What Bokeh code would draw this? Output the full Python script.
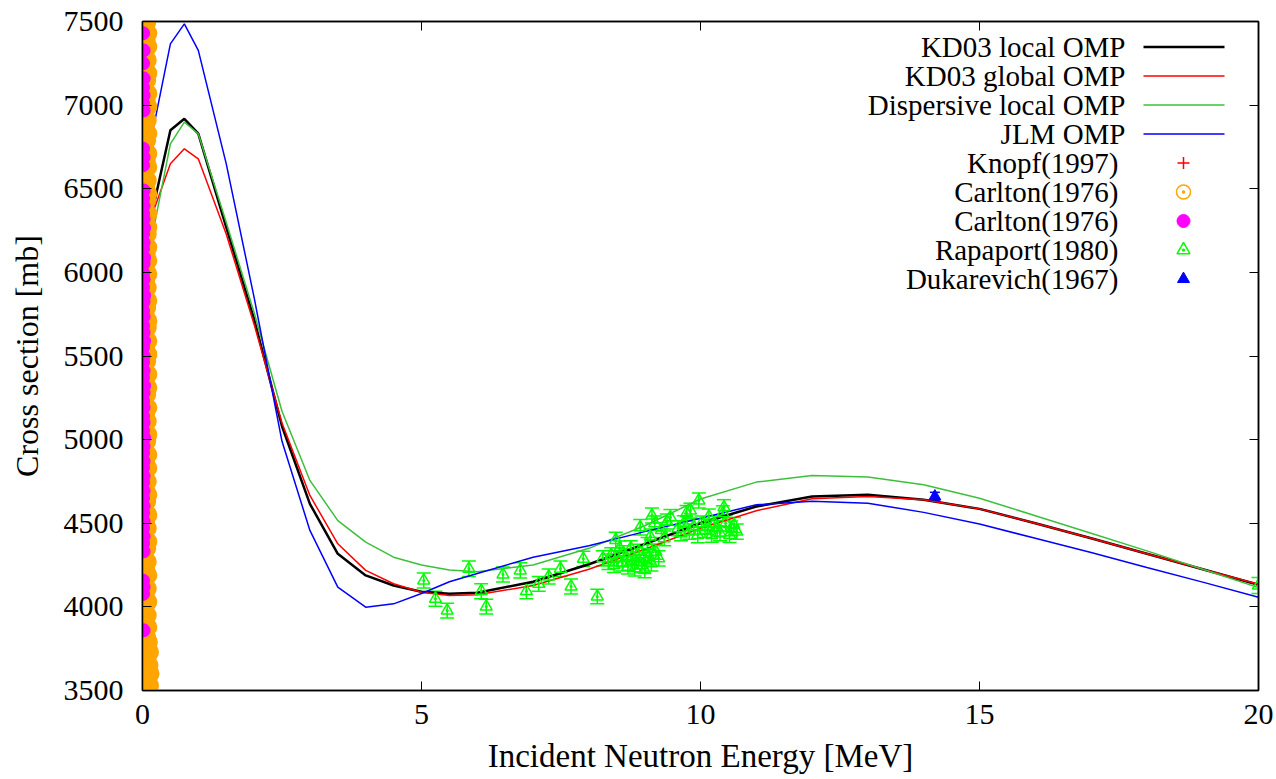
from bokeh.plotting import figure
from bokeh.models import (LinearAxis, FixedTicker, Whisker, TeeHead,
                          ColumnDataSource, CustomJSTickFormatter)
from bokeh.core.properties import value
from bokeh.embed import file_html
from bokeh.resources import INLINE

# ---------------- data ----------------
x_ticks = [0, 5, 10, 15, 20]
x_tick_labels = ["0", "5", "10", "15", "20"]
y_ticks = [3500, 4000, 4500, 5000, 5500, 6000, 6500, 7000, 7500]
y_tick_labels = ["3500", "4000", "4500", "5000", "5500", "6000", "6500", "7000", "7500"]
x_title = "Incident Neutron Energy [MeV]"
y_title = "Cross section [mb]"

energy = [0.2, 0.5, 0.75, 1.0, 1.5, 2.0, 2.5, 3.0, 3.5, 4.0, 4.5, 5.0, 5.5, 6.0,
          7.0, 8.0, 9.0, 10.0, 11.0, 12.0, 13.0, 14.0, 15.0, 16.0, 17.0, 18.0, 19.0, 20.0]
kd03_local = [6400, 6850, 6918, 6829, 6270, 5720, 5080, 4616, 4317, 4188, 4128, 4090, 4078, 4085,
              4150, 4255, 4375, 4500, 4600, 4660, 4670, 4640, 4586, 4500, 4410, 4318, 4225, 4132]
kd03_global = [6370, 6649, 6739, 6679, 6230, 5690, 5100, 4666, 4377, 4218, 4138, 4088, 4068, 4072,
               4128, 4225, 4345, 4470, 4575, 4646, 4660, 4640, 4586, 4500, 4410, 4318, 4225, 4135]
disp_local = [6260, 6768, 6898, 6829, 6300, 5760, 5170, 4756, 4516, 4387, 4297, 4250, 4220, 4210,
              4250, 4350, 4485, 4645, 4746, 4786, 4776, 4730, 4650, 4545, 4440, 4335, 4225, 4115]
jlm = [6870, 7366, 7486, 7327, 6650, 5850, 4990, 4457, 4118, 3998, 4018, 4080, 4150, 4200,
       4297, 4365, 4450, 4530, 4610, 4632, 4620, 4565, 4495, 4410, 4325, 4235, 4148, 4058]

knopf_e = []
knopf_s = []

carlton_o_e = [0.09, 0.13, 0.04, 0.11, 0.14, 0.07, 0.12, 0.03, 0.09, 0.13, 0.05, 0.11, 0.08, 0.03,
               0.10, 0.06, 0.09, 0.03, 0.10, 0.05, 0.09, 0.04, 0.10, 0.06, 0.09, 0.03, 0.08, 0.10,
               0.04, 0.09, 0.06, 0.10, 0.03, 0.08, 0.10, 0.05, 0.09, 0.03, 0.10, 0.06, 0.10, 0.04,
               0.08, 0.10, 0.03, 0.09, 0.06, 0.10, 0.03, 0.08, 0.10, 0.05, 0.10, 0.03, 0.08, 0.10,
               0.06, 0.10, 0.03, 0.09, 0.10, 0.05, 0.08, 0.10, 0.03, 0.09, 0.06, 0.10, 0.04, 0.10,
               0.07, 0.10, 0.03, 0.09, 0.10, 0.05, 0.10, 0.03, 0.08, 0.10, 0.06, 0.09, 0.03, 0.10,
               0.07, 0.10, 0.04, 0.08, 0.10, 0.05, 0.09, 0.03, 0.10, 0.07, 0.10, 0.04, 0.08, 0.10,
               0.05, 0.09, 0.03, 0.10, 0.07, 0.10, 0.04, 0.08]
carlton_o_s = [3510, 3530, 3555, 3580, 3600, 3625, 3650, 3680, 3700, 3730, 3760, 3790, 3820, 3850,
               3880, 3910, 3950, 3990, 4030, 4070, 4110, 4150, 4190, 4230, 4270, 4310, 4350, 4390,
               4430, 4470, 4510, 4550, 4590, 4630, 4670, 4710, 4750, 4790, 4830, 4870, 4910, 4950,
               4990, 5030, 5070, 5110, 5150, 5190, 5230, 5270, 5310, 5350, 5390, 5430, 5470, 5510,
               5550, 5590, 5630, 5670, 5710, 5750, 5790, 5830, 5870, 5910, 5950, 5990, 6030, 6070,
               6110, 6150, 6190, 6230, 6270, 6310, 6350, 6390, 6430, 6470, 6510, 6550, 6590, 6630,
               6670, 6710, 6750, 6790, 6830, 6870, 6910, 6950, 6990, 7030, 7070, 7110, 7150, 7190,
               7230, 7270, 7310, 7350, 7390, 7430, 7470, 7495]

carlton_f_e = [0.01, 0.02, 0.01, 0.02, 0.01, 0.02, 0.01, 0.02, 0.01, 0.02, 0.01, 0.02, 0.01, 0.02,
               0.01, 0.02, 0.03, 0.01, 0.02, 0.01, 0.03, 0.02, 0.01, 0.02, 0.01, 0.03, 0.02, 0.01,
               0.02, 0.01, 0.02, 0.03, 0.01, 0.02, 0.01, 0.02, 0.01, 0.03, 0.02, 0.01, 0.02, 0.01,
               0.02, 0.01, 0.03, 0.02, 0.01, 0.02, 0.01, 0.02, 0.01, 0.02, 0.01, 0.02, 0.01, 0.02,
               0.01, 0.02, 0.01, 0.02, 0.01, 0.02, 0.01, 0.02]
carlton_f_s = [7430, 7327, 7250, 7160, 7105, 7058, 7010, 6968, 6740, 6688, 6640, 6490, 6442, 6398,
               6352, 6318, 6266, 6230, 6178, 6141, 6088, 6052, 5996, 5958, 5911, 5862, 5824, 5770,
               5735, 5682, 5641, 5590, 5552, 5500, 5463, 5412, 5371, 5322, 5280, 5231, 5193, 5140,
               5102, 5054, 5011, 4960, 4922, 4871, 4833, 4782, 4744, 4693, 4651, 4602, 4561, 4512,
               4470, 4421, 4380, 4332, 4157, 4118, 4078, 3860]

rap_e = [5.04, 5.25, 5.46, 5.85, 6.07, 6.16, 6.46, 6.77, 6.88, 7.10, 7.28, 7.49, 7.68, 7.90, 8.15,
         8.25, 8.35, 8.40, 8.45, 8.48, 8.50, 8.55, 8.60, 8.62, 8.68, 8.70, 8.75, 8.78, 8.82, 8.85,
         8.90, 8.92, 8.95, 8.98, 9.00, 9.05, 9.08, 9.10, 9.12, 9.13, 9.18, 9.20, 9.25, 9.30, 9.35,
         9.40, 9.46, 9.60, 9.65, 9.70, 9.75, 9.80, 9.82, 9.88, 9.95, 9.97, 10.02, 10.08, 10.12,
         10.15, 10.20, 10.25, 10.30, 10.35, 10.40, 10.42, 10.45, 10.52, 10.55, 10.60, 10.65, 20.0]
rap_s = [4158, 4048, 3978, 4228, 4094, 4002, 4194, 4218, 4094, 4138, 4182, 4228, 4122, 4287, 4062,
         4290, 4270, 4310, 4250, 4400, 4290, 4350, 4260, 4320, 4290, 4240, 4350, 4300, 4230, 4270,
         4330, 4476, 4250, 4290, 4220, 4370, 4300, 4420, 4260, 4546, 4500, 4330, 4290, 4460, 4410,
         4510, 4536, 4470, 4440, 4500, 4560, 4450, 4576, 4480, 4430, 4636, 4500, 4460, 4480,
         4540, 4430, 4500, 4470, 4440, 4560, 4596, 4500, 4430, 4470, 4490, 4450, 4128]
rap_err = [45, 45, 44, 46, 45, 44, 45, 46, 45, 44, 45, 46, 45, 45, 44,
           45, 46, 44, 45, 46, 45, 44, 45, 46, 45, 44, 45, 46, 45, 44,
           45, 46, 44, 45, 46, 45, 44, 45, 46, 45, 44, 45, 46, 45, 44,
           45, 46, 45, 44, 45, 46, 45, 44, 45, 46, 45, 44, 45, 46,
           45, 44, 45, 46, 45, 44, 45, 46, 45, 44, 45, 46, 48]

duk_e = [14.2]
duk_s = [4660]
duk_err = [25]

legend_line_labels = ["KD03 local OMP", "KD03 global OMP", "Dispersive local OMP", "JLM OMP"]
legend_point_labels = ["Knopf(1997)", "Carlton(1976)", "Carlton(1976)", "Rapaport(1980)", "Dukarevich(1967)"]

# ---------------- layout / style ----------------
FONT = "Liberation Serif, Times New Roman, DejaVu Serif, serif"
TITLE_FONT = "Times New Roman"
FRAME_L, FRAME_T, FRAME_W, FRAME_H = 142, 21, 1116, 669
X_START, X_END, Y_START, Y_END = 0, 20, 3500, 7500


def to_x(px):
    return X_START + (px - FRAME_L) * (X_END - X_START) / FRAME_W


def to_y(py):
    return Y_END - (py - FRAME_T) * (Y_END - Y_START) / FRAME_H


p = figure(width=1276, height=779, x_range=(X_START, X_END), y_range=(Y_START, Y_END),
           output_backend="svg", toolbar_location=None,
           min_border_left=142, min_border_right=18, min_border_top=21, min_border_bottom=89,
           x_axis_label=x_title, y_axis_label=y_title)
p.background_fill_color = "white"
p.border_fill_color = "white"
p.grid.visible = False
p.outline_line_color = "black"
p.outline_line_width = 1.5

for ax in p.xaxis + p.yaxis:
    ax.major_tick_in = 9
    ax.major_tick_out = 0
    ax.minor_tick_in = 0
    ax.minor_tick_out = 0
    ax.axis_line_color = "black"
    ax.axis_line_width = 1.5
    ax.major_tick_line_color = "black"
    ax.major_label_text_font = FONT
    ax.major_label_text_font_size = "30px"
    ax.major_label_text_color = "black"
    ax.axis_label_text_font = TITLE_FONT
    ax.axis_label_text_font_style = "normal"
    ax.axis_label_text_color = "black"

p.xaxis.ticker = FixedTicker(ticks=x_ticks)
p.xaxis.major_label_overrides = dict(zip(x_ticks, x_tick_labels))
p.xaxis.major_label_standoff = 14
p.xaxis.axis_label_standoff = 11
p.xaxis.axis_label_text_font_size = "33px"

p.yaxis.ticker = FixedTicker(ticks=y_ticks)
p.yaxis.major_label_overrides = dict(zip(y_ticks, y_tick_labels))
p.yaxis.major_label_standoff = 19
p.yaxis.axis_label_standoff = 16
p.yaxis.axis_label_text_font_size = "32px"

blank = CustomJSTickFormatter(code="return ''")
top_axis = LinearAxis(ticker=FixedTicker(ticks=x_ticks), formatter=blank,
                      major_tick_in=9, major_tick_out=0, minor_tick_in=0, minor_tick_out=0,
                      major_label_standoff=0, major_label_text_font_size="1px",
                      axis_line_color="black", axis_line_width=1.5)
right_axis = LinearAxis(ticker=FixedTicker(ticks=y_ticks), formatter=blank,
                        major_tick_in=9, major_tick_out=0, minor_tick_in=0, minor_tick_out=0,
                        major_label_standoff=0, major_label_text_font_size="1px",
                        axis_line_color="black", axis_line_width=1.5)
p.add_layout(top_axis, "above")
p.add_layout(right_axis, "right")

BLACK, RED, GREEN, BLUE = "#000000", "#ff0000", "#3cc03c", "#0000ff"
ORANGE, MAGENTA, LIME = "#ffa500", "#ff00ff", "#00ff00"

# model curves
p.line(energy, kd03_local, line_color=BLACK, line_width=2.5)
p.line(energy, kd03_global, line_color=RED, line_width=1.5)
p.line(energy, disp_local, line_color=GREEN, line_width=1.5)
p.line(energy, jlm, line_color=BLUE, line_width=1.5)

# experimental data
p.scatter(knopf_e, knopf_s, marker="cross", size=12, line_color=RED, line_width=1.5)
p.scatter(carlton_o_e, carlton_o_s, marker="circle_dot", size=16, line_color=ORANGE,
          fill_color=ORANGE, line_width=2.5)
p.scatter(carlton_f_e, carlton_f_s, marker="circle", size=13, line_color=MAGENTA,
          fill_color=MAGENTA)

rap_src = ColumnDataSource(dict(e=rap_e, s=rap_s,
                                lo=[s - d for s, d in zip(rap_s, rap_err)],
                                hi=[s + d for s, d in zip(rap_s, rap_err)]))
p.add_layout(Whisker(base="e", lower="lo", upper="hi", source=rap_src,
                     line_color=LIME, line_width=1.5,
                     upper_head=TeeHead(size=14, line_color=LIME, line_width=1.5),
                     lower_head=TeeHead(size=14, line_color=LIME, line_width=1.5)))
p.scatter("e", "s", source=rap_src, marker="triangle_dot", size=12, line_color=LIME,
          fill_color=None, line_width=1.5)

duk_src = ColumnDataSource(dict(e=duk_e, s=duk_s,
                                lo=[s - d for s, d in zip(duk_s, duk_err)],
                                hi=[s + d for s, d in zip(duk_s, duk_err)]))
p.add_layout(Whisker(base="e", lower="lo", upper="hi", source=duk_src,
                     line_color=BLUE, line_width=1.5,
                     upper_head=TeeHead(size=10, line_color=BLUE, line_width=1.5),
                     lower_head=TeeHead(size=10, line_color=BLUE, line_width=1.5)))
p.scatter("e", "s", source=duk_src, marker="triangle", size=12, line_color=BLUE, fill_color=BLUE)

# ---------------- key (gnuplot style: text right-aligned, sample on the right) ----------------
LEG_ROW0, LEG_STEP = 46.5, 29.0
LEG_TEXT_R_LINE, LEG_TEXT_R_PT = 1125, 1118
LEG_S0, LEG_S1, LEG_MARK = 1143, 1224, 1183
rows = [LEG_ROW0 + i * LEG_STEP for i in range(len(legend_line_labels) + len(legend_point_labels))]

line_rows = rows[:len(legend_line_labels)]
pt_rows = rows[len(legend_line_labels):]

p.text(x=[to_x(LEG_TEXT_R_LINE)] * len(line_rows), y=[to_y(r) for r in line_rows],
       text=legend_line_labels, text_align="right", text_baseline="middle",
       text_font=value(FONT), text_font_size="29px", text_color="black")
p.text(x=[to_x(LEG_TEXT_R_PT)] * len(pt_rows), y=[to_y(r) for r in pt_rows],
       text=legend_point_labels, text_align="right", text_baseline="middle",
       text_font=value(FONT), text_font_size="29px", text_color="black")

for r, col, w in zip(line_rows, [BLACK, RED, GREEN, BLUE], [2.5, 1.5, 1.5, 1.5]):
    p.segment(x0=[to_x(LEG_S0)], x1=[to_x(LEG_S1)], y0=[to_y(r)], y1=[to_y(r)],
              line_color=col, line_width=w)

mx = [to_x(LEG_MARK)]
p.scatter(mx, [to_y(pt_rows[0])], marker="cross", size=12, line_color=RED, line_width=1.5)
p.scatter(mx, [to_y(pt_rows[1])], marker="circle_dot", size=14, line_color=ORANGE,
          fill_color=None, line_width=1.5)
p.scatter(mx, [to_y(pt_rows[2])], marker="circle", size=13, line_color=MAGENTA, fill_color=MAGENTA)
p.scatter(mx, [to_y(pt_rows[3])], marker="triangle_dot", size=13, line_color=LIME,
          fill_color=None, line_width=1.5)
p.scatter(mx, [to_y(pt_rows[4])], marker="triangle", size=12, line_color=BLUE, fill_color=BLUE)

open("out.html", "w").write(file_html(p, INLINE))
